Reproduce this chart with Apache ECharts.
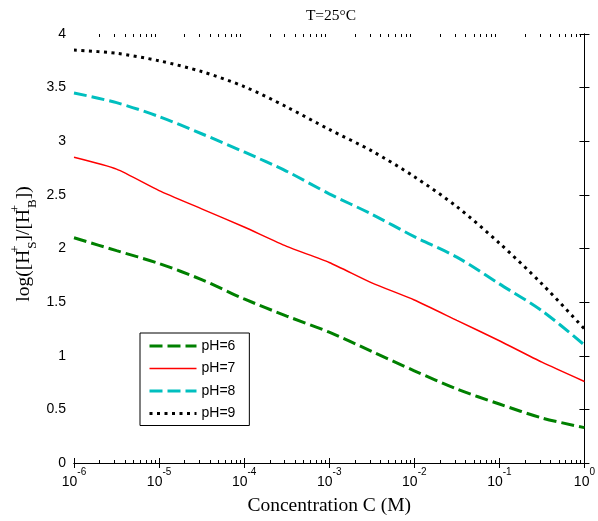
<!DOCTYPE html>
<html><head><meta charset="utf-8">
<script src="https://cdn.jsdelivr.net/npm/echarts@6/dist/echarts.min.js"></script>
<style>html,body{margin:0;padding:0;background:#fff}#c{width:598px;height:521px}</style>
</head><body><div id="c"></div>
<script>
// exponents of concentration C (M) where values were read
const logC = [-6, -5.5, -5, -4.5, -4, -3.5, -3, -2.5, -2, -1.5, -1, -0.5, 0];
const pH6 = [2.10, 1.98, 1.86, 1.71, 1.53, 1.37, 1.22, 1.04, 0.86, 0.69, 0.55, 0.42, 0.33];
const pH7 = [2.85, 2.74, 2.54, 2.37, 2.20, 2.02, 1.87, 1.68, 1.52, 1.33, 1.14, 0.94, 0.76];
const pH8 = [3.45, 3.36, 3.23, 3.07, 2.90, 2.72, 2.51, 2.32, 2.11, 1.92, 1.67, 1.42, 1.10];
const pH9 = [3.85, 3.82, 3.75, 3.65, 3.51, 3.32, 3.11, 2.91, 2.67, 2.39, 2.05, 1.67, 1.25];
const seriesNames = ['pH=6', 'pH=7', 'pH=8', 'pH=9'];
const decadeExponents = [-6, -5, -4, -3, -2, -1, 0];
const minorMultipliers = [2, 3, 4, 5, 6, 7, 8, 9];
const yMin = 0, yMax = 4, yStep = 0.5;
const titleText = 'T=25°C';
const xName = 'Concentration C (M)';

const minorTickPos = [];
decadeExponents.slice(0, -1).forEach(e => minorMultipliers.forEach(m => minorTickPos.push(e + Math.log10(m))));
const toPairs = arr => arr.map((v, i) => [Math.pow(10, logC[i]), v]);

const serif = 'Liberation Serif';
const sans = 'Liberation Sans';
const styles = [
  {color: '#008000', width: 3, type: [13, 5]},
  {color: '#ff0000', width: 1.5, type: 'solid'},
  {color: '#00bfbf', width: 3, type: [13, 5]},
  {color: '#000000', width: 3, type: [3, 4.5]}
];
const values = [pH6, pH7, pH8, pH9];
const chart = echarts.init(document.getElementById('c'));

const minorAxis = (pos) => ({
  type: 'value', position: pos, min: -6, max: 0, gridIndex: 0,
  axisLine: {show: false}, splitLine: {show: false}, axisLabel: {show: false},
  axisTick: {show: true, inside: true, length: 3, customValues: minorTickPos, lineStyle: {color: '#000', width: 1}}
});

chart.setOption({
  animation: false,
  backgroundColor: '#fff',
  title: {text: titleText, left: 326, top: 3, textAlign: 'center',
    textStyle: {fontFamily: serif, fontWeight: 'normal', fontSize: 15.5, color: '#000'}},
  grid: {left: 74, right: 11, top: 34, bottom: 58, containLabel: false},
  legend: {
    orient: 'vertical', left: 140, top: 333,
    data: seriesNames.map((n, i) => ({name: n, lineStyle: {width: styles[i].width, type: styles[i].type, color: styles[i].color}})),
    itemWidth: 47, itemHeight: 14, itemGap: 8.5, itemTextGap: 7,
    padding: [6, 14, 5, 8], borderColor: '#000', borderWidth: 1, backgroundColor: '#fff',
    itemStyle: {opacity: 0},
    textStyle: {fontFamily: sans, fontSize: 14, color: '#000'}
  },
  xAxis: [
    {type: 'log', logBase: 10, min: 1e-6, max: 1, position: 'bottom',
     name: xName, nameLocation: 'middle', nameGap: 33,
     nameTextStyle: {fontFamily: serif, fontSize: 19.5, color: '#000'},
     axisLine: {show: true, lineStyle: {color: '#000', width: 1}},
     axisTick: {show: true, inside: true, length: 5, lineStyle: {color: '#000'}},
     splitLine: {show: false}, minorTick: {show: false},
     axisLabel: {margin: 4, color: '#000',
       formatter: v => '{b|10}{s|' + Math.round(Math.log10(v)) + '}',
       rich: {
         b: {fontFamily: sans, fontSize: 14, lineHeight: 22, verticalAlign: 'bottom', color: '#000'},
         s: {fontFamily: sans, fontSize: 10, lineHeight: 10, verticalAlign: 'top', color: '#000'}
       }}},
    {type: 'log', logBase: 10, min: 1e-6, max: 1, position: 'top',
     axisLine: {show: true, lineStyle: {color: '#000', width: 1}},
     axisTick: {show: true, inside: true, length: 5, lineStyle: {color: '#000'}},
     splitLine: {show: false}, axisLabel: {show: false}},
    minorAxis('bottom'),
    minorAxis('top')
  ],
  yAxis: [
    {type: 'value', min: yMin, max: yMax, interval: yStep, position: 'left',
     axisLine: {show: true, lineStyle: {color: '#000', width: 1}},
     axisTick: {show: true, inside: true, length: 5, lineStyle: {color: '#000'}},
     splitLine: {show: false},
     axisLabel: {fontFamily: sans, fontSize: 14, color: '#000', margin: 8}},
    {type: 'value', min: yMin, max: yMax, interval: yStep, position: 'right',
     axisLine: {show: true, lineStyle: {color: '#000', width: 1}},
     axisTick: {show: true, inside: true, length: 5, lineStyle: {color: '#000'}},
     splitLine: {show: false}, axisLabel: {show: false}}
  ],
  graphic: [{
    type: 'text', x: 24, y: 244, rotation: Math.PI / 2,
    style: {
      text: '{n|log([H}{sp|+}{sb|S}{n|]/[H}{sp|+}{sb|B}{n|])}',
      textAlign: 'center', textVerticalAlign: 'middle',
      rich: {
        n: {fontFamily: serif, fontSize: 19.5, lineHeight: 30, verticalAlign: 'middle', fill: '#000'},
        sp: {fontFamily: serif, fontSize: 13, lineHeight: 13, verticalAlign: 'top', width: 1, fill: '#000'},
        sb: {fontFamily: serif, fontSize: 13, lineHeight: 13, verticalAlign: 'bottom', fill: '#000'}
      }
    }
  }],
  series: seriesNames.map((n, i) => ({
    name: n, type: 'line', data: toPairs(values[i]), symbol: 'none',
    smooth: i === 1 ? 0.2 : 0.3, color: styles[i].color,
    lineStyle: {color: styles[i].color, width: styles[i].width, type: styles[i].type}
  }))
});
</script></body></html>
